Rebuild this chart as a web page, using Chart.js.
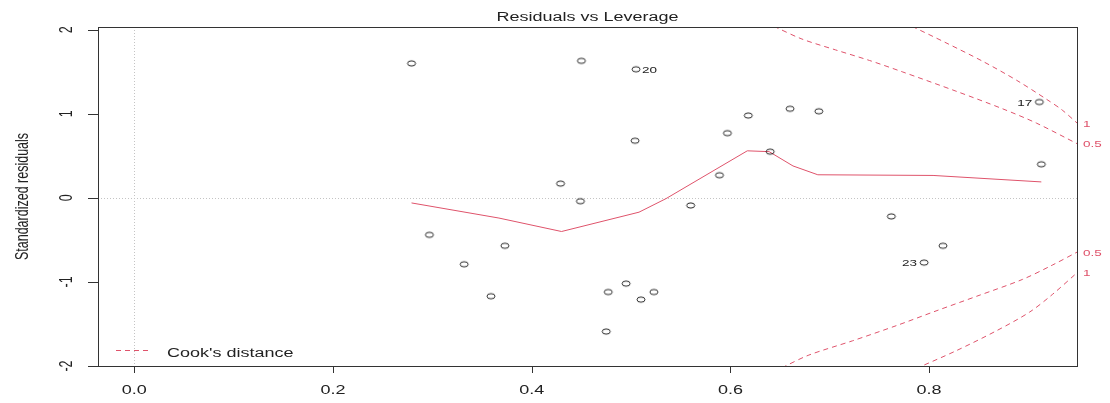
<!DOCTYPE html>
<html>
<head>
<meta charset="utf-8">
<script src="https://cdn.jsdelivr.net/npm/chart.js@4/dist/chart.umd.min.js"></script>
<style>
  html, body { margin: 0; padding: 0; background: #fff; }
  #wrap { width: 1110px; height: 403px; }
</style>
</head>
<body>
<div id="wrap"><canvas id="plot" width="1110" height="403"></canvas></div>
<script>
// observations: leverage and standardized residuals
const leverage = [0.279, 0.297, 0.332, 0.359, 0.373, 0.429, 0.449, 0.450, 0.477, 0.475,
    0.495, 0.510, 0.523, 0.505, 0.504, 0.560, 0.589, 0.597, 0.618, 0.640,
    0.660, 0.689, 0.762, 0.795, 0.814, 0.911, 0.913];
const stdResid = [1.60, -0.44, -0.79, -1.17, -0.57, 0.17, -0.04, 1.63, -1.12, -1.59,
    -1.02, -1.21, -1.12, 1.53, 0.68, -0.09, 0.27, 0.77, 0.98, 0.55,
    1.06, 1.03, -0.22, -0.77, -0.57, 1.14, 0.40];

// labelled observations (index into the arrays above)
const idIndex = [13, 25, 23];
const idText = ['20', '17', '23'];
const idSide = ['right', 'left', 'left'];

// red smoother
const smoothLev = [0.279, 0.367, 0.430, 0.508, 0.535, 0.617, 0.639, 0.663, 0.688, 0.804, 0.913];
const smoothRes = [-0.06, -0.24, -0.40, -0.17, -0.01, 0.56, 0.55, 0.38, 0.275, 0.267, 0.19];

// Cook's distance contours
const cookHalfUpLev = [0.644, 0.672, 0.706, 0.740, 0.773, 0.827, 0.874, 0.908, 0.949];
const cookHalfUpRes = [2.04, 1.89, 1.76, 1.635, 1.50, 1.27, 1.06, 0.89, 0.645];
const cookOneUpLev = [0.783, 0.817, 0.854, 0.888, 0.918, 0.934, 0.949];
const cookOneUpRes = [2.04, 1.845, 1.625, 1.40, 1.175, 1.045, 0.89];
const cookHalfLoLev = [0.652, 0.679, 0.723, 0.767, 0.807, 0.848, 0.894, 0.924, 0.949];
const cookHalfLoRes = [-2.02, -1.87, -1.70, -1.52, -1.345, -1.17, -0.97, -0.80, -0.645];
const cookOneLoLev = [0.787, 0.827, 0.868, 0.901, 0.924, 0.949];
const cookOneLoRes = [-2.03, -1.82, -1.58, -1.36, -1.15, -0.89];

const xTicks = [0, 0.2, 0.4, 0.6, 0.8];
const xTickLabels = ['0.0', '0.2', '0.4', '0.6', '0.8'];
const yTicks = [-2, -1, 0, 1, 2];
const yTickLabels = ['-2', '-1', '0', '1', '2'];

const RED = '#DF536B';
const INK = '#222';
const FONT = "'Liberation Sans', Arial, sans-serif";
const SX = 1.44; // the picture is stretched sideways

const pairs = (xs, ys) => xs.map((x, i) => ({ x, y: ys[i] }));

// R-like open circle, squashed like the reference
const dot = document.createElement('canvas');
dot.width = 12; dot.height = 9;
(() => {
    const c = dot.getContext('2d');
    c.strokeStyle = '#111';
    c.lineWidth = 0.9;
    c.beginPath();
    c.ellipse(6, 4.5, 4.0, 2.6, 0, 0, Math.PI * 2);
    c.stroke();
})();

function sText(ctx, txt, x, y, size, align, color, rot) {
    ctx.save();
    ctx.translate(x, y);
    ctx.scale(SX, 1);
    if (rot) ctx.rotate(-Math.PI / 2);
    ctx.font = size + 'px ' + FONT;
    ctx.textAlign = align;
    ctx.textBaseline = 'alphabetic';
    ctx.fillStyle = color;
    ctx.fillText(txt, 0, 0);
    ctx.restore();
}

const rDecor = {
    id: 'rDecor',
    beforeDatasetsDraw(chart) {
        const { ctx, chartArea: a, scales: { x, y } } = chart;
        ctx.save();
        ctx.strokeStyle = '#c4c4c4';
        ctx.lineWidth = 1;
        ctx.setLineDash([1, 2]);
        const x0 = Math.round(x.getPixelForValue(0)) + 0.5;
        const y0 = Math.round(y.getPixelForValue(0)) + 0.5;
        ctx.beginPath();
        ctx.moveTo(x0, a.top); ctx.lineTo(x0, a.bottom);
        ctx.moveTo(a.left, y0); ctx.lineTo(a.right, y0);
        ctx.stroke();
        ctx.restore();
    },
    afterDatasetsDraw(chart) {
        const { ctx, chartArea: a, scales: { x, y } } = chart;
        ctx.save();
        // frame
        ctx.strokeStyle = '#333';
        ctx.lineWidth = 1;
        ctx.strokeRect(a.left + 0.5, a.top + 0.5, a.right - a.left, a.bottom - a.top);
        // tick marks
        ctx.beginPath();
        xTicks.forEach(v => {
            const px = Math.round(x.getPixelForValue(v)) + 0.5;
            ctx.moveTo(px, a.bottom); ctx.lineTo(px, a.bottom + 7);
        });
        yTicks.forEach(v => {
            const py = Math.round(y.getPixelForValue(v)) + 0.5;
            ctx.moveTo(a.left - 10, py); ctx.lineTo(a.left, py);
        });
        ctx.stroke();
        ctx.restore();

        xTicks.forEach((v, i) => sText(ctx, xTickLabels[i], x.getPixelForValue(v), 394, 12.5, 'center', INK));
        yTicks.forEach((v, i) => sText(ctx, yTickLabels[i], 72, y.getPixelForValue(v), 12.5, 'center', INK, true));

        sText(ctx, 'Residuals vs Leverage', (a.left + a.right) / 2, 21, 12.5, 'center', INK);
        sText(ctx, 'Standardized residuals', 28, (a.top + a.bottom) / 2, 12.5, 'center', INK, true);

        // observation ids
        idIndex.forEach((k, i) => {
            const px = x.getPixelForValue(leverage[k]);
            const py = y.getPixelForValue(stdResid[k]);
            const right = idSide[i] === 'right';
            sText(ctx, idText[i], px + (right ? 6 : -7), py + 3.5, 9.4, right ? 'left' : 'right', INK);
        });

        // contour levels at the right edge
        [[cookHalfUpRes, '0.5'], [cookOneUpRes, '1'], [cookHalfLoRes, '0.5'], [cookOneLoRes, '1']].forEach(([r, t]) => {
            sText(ctx, t, a.right + 6, y.getPixelForValue(r[r.length - 1]) + 3.5, 9.4, 'left', RED);
        });

        // legend
        ctx.save();
        ctx.strokeStyle = RED;
        ctx.lineWidth = 1;
        ctx.setLineDash([5, 4]);
        ctx.beginPath();
        ctx.moveTo(116, 350.5); ctx.lineTo(151, 350.5);
        ctx.stroke();
        ctx.restore();
        sText(ctx, "Cook's distance", 167, 357, 12.5, 'left', INK);
    }
};

const cookLine = (xs, ys) => ({
    type: 'line',
    data: pairs(xs, ys),
    borderColor: RED,
    borderWidth: 1,
    borderDash: [5, 4],
    pointRadius: 0,
    tension: 0.3,
    order: 3
});

new Chart(document.getElementById('plot').getContext('2d'), {
    type: 'scatter',
    data: {
        datasets: [
            {
                data: pairs(leverage, stdResid),
                pointStyle: dot,
                pointRadius: 5,
                order: 1
            },
            {
                type: 'line',
                data: pairs(smoothLev, smoothRes),
                borderColor: RED,
                borderWidth: 1,
                pointRadius: 0,
                tension: 0,
                order: 2
            },
            cookLine(cookHalfUpLev, cookHalfUpRes),
            cookLine(cookOneUpLev, cookOneUpRes),
            cookLine(cookHalfLoLev, cookHalfLoRes),
            cookLine(cookOneLoLev, cookOneLoRes)
        ]
    },
    options: {
        responsive: false,
        animation: false,
        events: [],
        layout: { padding: { left: 98, top: 27, right: 33, bottom: 37 } },
        scales: {
            x: { type: 'linear', min: -0.0366, max: 0.9489, display: false },
            y: { type: 'linear', min: -2.0, max: 2.033, display: false }
        },
        plugins: {
            legend: { display: false },
            tooltip: { enabled: false }
        }
    },
    plugins: [rDecor]
});
</script>
</body>
</html>
